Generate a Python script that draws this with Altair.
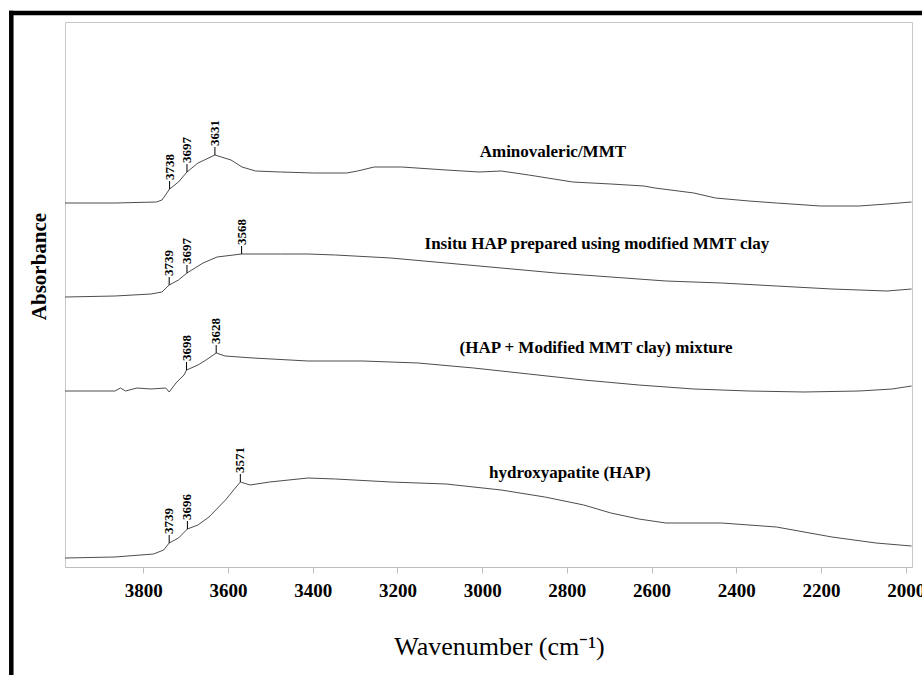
import altair as alt
import numpy as np
import pandas as pd

# FTIR spectra (OH-stretch region), absorbance in arbitrary units, stacked with offsets
WN_AMINO = [3985, 3867, 3769, 3756, 3738, 3717, 3697, 3671, 3631, 3593, 3567, 3535,
            3476, 3398, 3320, 3294, 3255, 3190, 3085, 3007, 2955, 2890, 2786, 2696,
            2618, 2592, 2500, 2449, 2370, 2305, 2201, 2110, 2044, 1986]
ABS_AMINO = [3.64, 3.64, 3.65, 3.67, 3.78, 3.85, 3.95, 4.04, 4.12, 4.07, 4.00, 3.96,
             3.95, 3.94, 3.94, 3.96, 4.00, 4.00, 3.97, 3.95, 3.96, 3.92, 3.85, 3.83,
             3.81, 3.79, 3.74, 3.69, 3.66, 3.64, 3.61, 3.61, 3.63, 3.65]

WN_INSITU = [3985, 3867, 3782, 3756, 3739, 3717, 3697, 3659, 3626, 3568, 3476, 3411,
             3346, 3216, 3085, 2955, 2826, 2696, 2566, 2435, 2305, 2174, 2044, 1986]
ABS_INSITU = [2.70, 2.71, 2.73, 2.75, 2.82, 2.87, 2.94, 3.04, 3.10, 3.13, 3.13, 3.13,
              3.12, 3.09, 3.04, 2.99, 2.94, 2.90, 2.86, 2.84, 2.81, 2.78, 2.76, 2.78]

WN_MIX = [3985, 3867, 3854, 3842, 3815, 3782, 3747, 3739, 3723, 3704, 3698, 3671,
          3652, 3628, 3607, 3541, 3411, 3281, 3151, 3020, 2890, 2760, 2630, 2500,
          2370, 2240, 2110, 2032, 1986]
ABS_MIX = [1.76, 1.76, 1.79, 1.76, 1.79, 1.78, 1.79, 1.75, 1.84, 1.92, 1.97, 2.02,
           2.07, 2.14, 2.11, 2.09, 2.06, 2.06, 2.04, 1.99, 1.93, 1.87, 1.82, 1.78,
           1.76, 1.75, 1.76, 1.78, 1.81]

WN_HAP = [3985, 3867, 3776, 3752, 3739, 3717, 3696, 3671, 3645, 3606, 3583, 3571,
          3548, 3502, 3411, 3346, 3216, 3085, 2955, 2852, 2760, 2696, 2630, 2566,
          2435, 2305, 2174, 2070, 1986]
ABS_HAP = [0.09, 0.10, 0.13, 0.17, 0.24, 0.29, 0.38, 0.42, 0.50, 0.67, 0.79, 0.85,
           0.82, 0.85, 0.89, 0.88, 0.85, 0.83, 0.77, 0.70, 0.62, 0.54, 0.48, 0.44,
           0.44, 0.40, 0.30, 0.24, 0.21]

SERIES = ["Aminovaleric/MMT",
          "Insitu HAP prepared using modified MMT clay",
          "(HAP + Modified MMT clay) mixture",
          "hydroxyapatite (HAP)"]

# Marked band positions on each spectrum
PEAKS = [[3738, 3697, 3631],
         [3739, 3697, 3568],
         [3698, 3628],
         [3739, 3696, 3571]]

# Where each spectrum's name is written
LABEL_WN = [2833, 2729, 2731, 2793]
LABEL_ABS = [4.15, 3.23, 2.19, 0.94]

X_TICKS = [3800, 3600, 3400, 3200, 3000, 2800, 2600, 2400, 2200, 2000]

curves = [(WN_AMINO, ABS_AMINO), (WN_INSITU, ABS_INSITU), (WN_MIX, ABS_MIX), (WN_HAP, ABS_HAP)]

rows, peak_rows = [], []
for name, (wn, ab), peaks in zip(SERIES, curves, PEAKS):
    for w, a in zip(wn, ab):
        rows.append({"series": name, "wn": w, "abs": a})
    wn_arr = np.array(wn[::-1], dtype=float)
    ab_arr = np.array(ab[::-1], dtype=float)
    for p in peaks:
        v = float(np.interp(p, wn_arr, ab_arr))
        peak_rows.append({"series": name, "wn": p, "abs": v,
                          "top": v + 0.08, "text_y": v + 0.09, "label": str(p)})

spectra = pd.DataFrame(rows)
peak_df = pd.DataFrame(peak_rows)
names_df = pd.DataFrame({"series": SERIES, "wn": LABEL_WN, "abs": LABEL_ABS})

SERIF = "Liberation Serif"

x_scale = alt.Scale(domain=[1985, 3985], reverse=True, nice=False, zero=False)
y_scale = alt.Scale(domain=[0, 5.45], nice=False, zero=False)

x_axis = alt.Axis(
    values=X_TICKS, format="d", grid=False,
    domainColor="#bdbdbd", tickColor="#bdbdbd", tickSize=6,
    labelFont=SERIF, labelFontSize=19, labelFontWeight="bold", labelColor="black",
    labelPadding=8,
    title="Wavenumber (cm⁻¹)", titleFont=SERIF, titleFontSize=26,
    titleFontWeight="normal", titleColor="black",
    titleX=434, titleY=87, titleBaseline="alphabetic", titleAnchor="start",
    titleAlign="center",
)
y_axis = alt.Axis(
    labels=False, ticks=False, grid=False, domain=False,
    title="Absorbance", titleFont=SERIF, titleFontSize=21, titleFontWeight="bold",
    titleColor="black", titleAngle=270, titleX=-20, titleY=244,
    titleBaseline="alphabetic", titleAlign="center",
)

lines = alt.Chart(spectra).mark_line(color="#4d4d4d", strokeWidth=1).encode(
    x=alt.X("wn:Q", scale=x_scale, axis=x_axis),
    y=alt.Y("abs:Q", scale=y_scale, axis=y_axis),
    detail="series:N",
    order="wn:Q",
)

peak_ticks = alt.Chart(peak_df).mark_rule(color="black", strokeWidth=1).encode(
    x="wn:Q", y="abs:Q", y2="top:Q",
)

peak_text = alt.Chart(peak_df).mark_text(
    angle=270, align="left", baseline="middle",
    font=SERIF, fontSize=13, fontWeight="bold", color="black",
).encode(x="wn:Q", y="text_y:Q", text="label:N")

name_text = alt.Chart(names_df).mark_text(
    align="center", baseline="middle",
    font=SERIF, fontSize=17, fontWeight="bold", color="black",
).encode(x="wn:Q", y="abs:Q", text="series:N")

# Heavy black frame around the figure
frame_df = pd.DataFrame({"k": [0]})
frame_left = alt.Chart(frame_df).mark_rule(color="black", strokeWidth=4.5).encode(
    x=alt.value(-53.7), y=alt.value(-11.2), y2=alt.value(700),
)
frame_top = alt.Chart(frame_df).mark_rule(color="black", strokeWidth=4.5).encode(
    x=alt.value(-56), x2=alt.value(900), y=alt.value(-9),
)

chart = alt.layer(
    lines, peak_ticks, peak_text, name_text, frame_left, frame_top
).properties(
    width=847, height=545,
    autosize=alt.AutoSizeParams(type="none"),
    padding={"left": 65, "top": 22, "right": 10, "bottom": 108},
    background="white",
).configure_view(stroke="#c8c8c8", strokeWidth=1)

chart.save("out.html", embed_options={"renderer": "svg", "actions": False})
